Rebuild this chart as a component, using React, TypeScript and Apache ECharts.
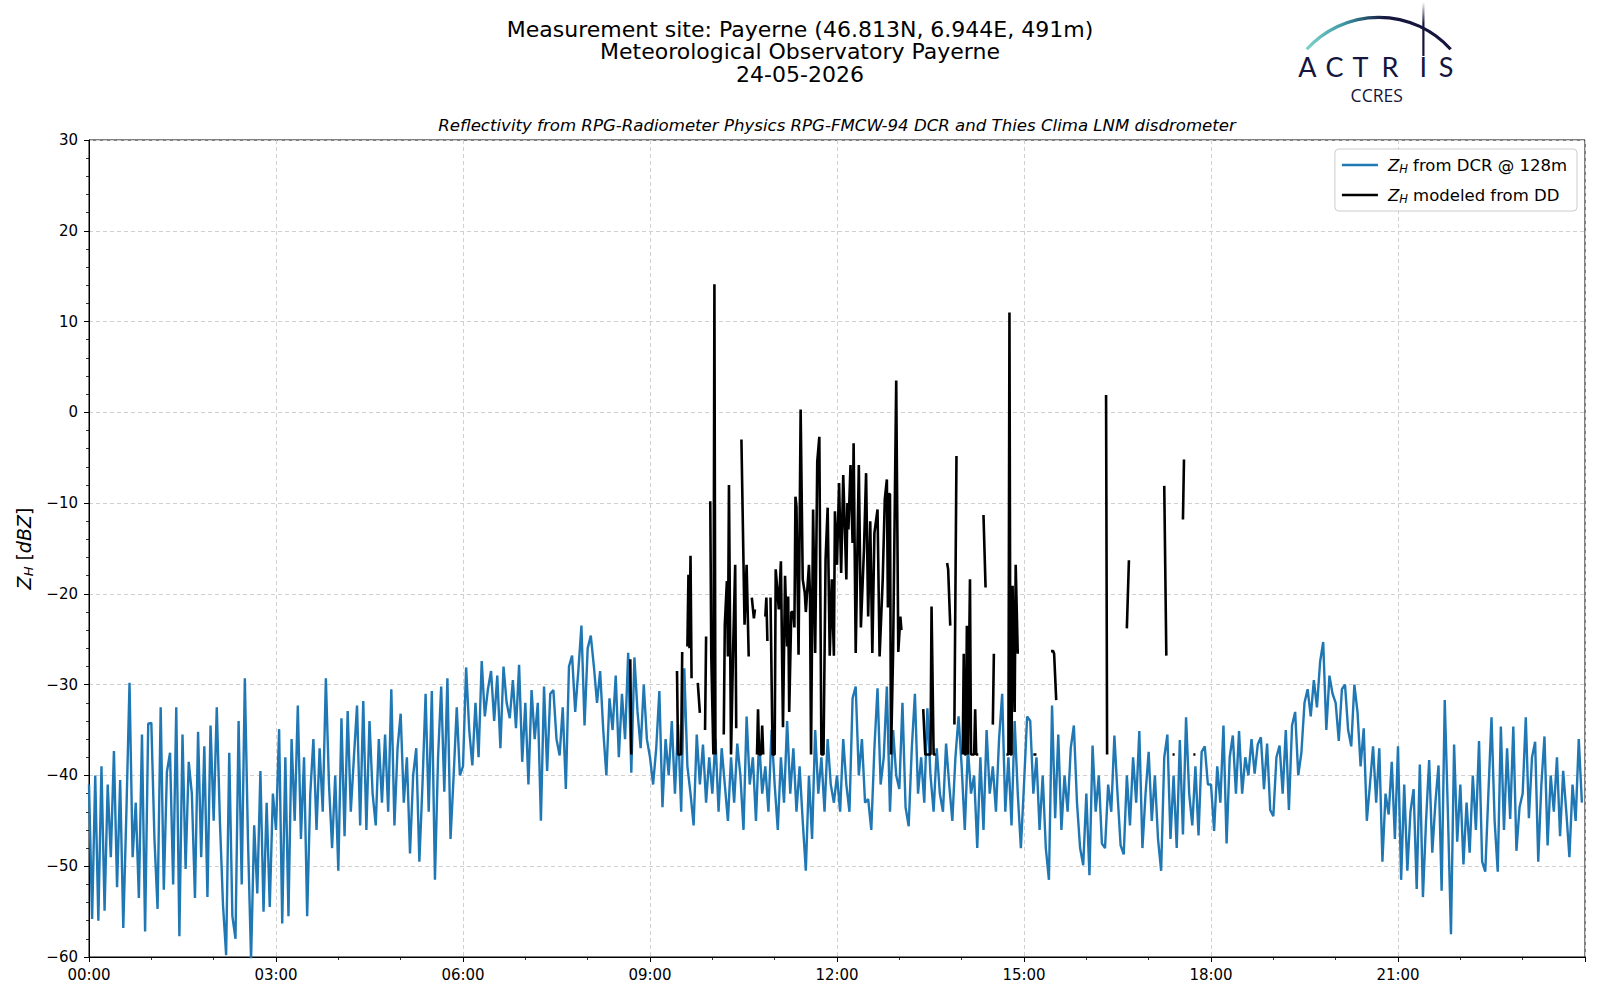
import React, { useEffect, useRef } from "react";
import * as echarts from "echarts";

// ---------- DATA ----------
const titleLines = [
  "Measurement site: Payerne (46.813N, 6.944E, 491m)",
  "Meteorological Observatory Payerne",
  "24-05-2026",
];
const subtitleText =
  "Reflectivity from RPG-Radiometer Physics RPG-FMCW-94 DCR and Thies Clima LNM disdrometer";
const seriesNames = ["Z_H from DCR @ 128m", "Z_H modeled from DD"];
const dcrStepMinutes = 3;

// Z_H from DCR @ 128m, one value every 3 minutes (20 per hour), hours 00..23
const dcrH00 = [-41,-55.8,-40,-56,-39,-54.9,-41,-49,-37.3,-52.3,-40.5,-56.8,-44,-29.8,-49,-43,-53.5,-35.5,-57.2,-34.3];
const dcrH01 = [-34.2,-47,-54.7,-32.5,-52.6,-39.6,-37.5,-52,-32.5,-57.7,-35.5,-50.3,-38.5,-42,-53.5,-35.2,-49,-36.8,-53.4,-34.5];
const dcrH02 = [-45,-32.5,-45,-54.3,-59.8,-37.5,-55.5,-58,-34,-52,-29.3,-47,-60.3,-45.5,-53,-39.5,-55,-43,-54.5,-42];
const dcrH03 = [-46,-34.9,-56.3,-38,-55.5,-36,-45,-32.3,-47,-38,-55.5,-42,-36,-46,-37,-44,-29.3,-41,-48,-40];
const dcrH04 = [-50.5,-33.7,-46.7,-32.9,-44,-38,-32.3,-45.5,-31.8,-46,-34,-42,-45.5,-36,-43,-35.5,-44,-30.5,-45.5,-37];
const dcrH05 = [-33.2,-43,-38,-48.6,-40,-37,-49.5,-41,-31,-44,-30.7,-51.5,-38,-30.2,-41.8,-29.3,-47,-40,-32.5,-40];
const dcrH06 = [-39,-28.1,-35,-38.9,-32,-38,-27.4,-33.5,-30.5,-28.5,-34,-29,-37,-28,-32,-33.7,-29.5,-34.8,-27.8,-38.5];
const dcrH07 = [-32,-41,-30.6,-36,-32,-45,-30.2,-39.5,-31,-30.6,-36,-37.8,-32.5,-41.5,-28,-26.8,-33,-28.5,-23.5,-34.5];
const dcrH08 = [-26,-24.6,-28,-32,-28.5,-35,-40,-31.5,-35,-29,-38,-31,-36,-26.5,-39.7,-27,-33,-37,-30,-36];
const dcrH09 = [-38,-41,-37,-30.7,-43.5,-36,-40,-34,-42,-34.4,-44,-28.2,-39,-42,-45.5,-35.5,-41,-36.6,-43,-38];
const dcrH10 = [-42,-36,-44,-37,-41,-45,-38,-43,-36.5,-40,-46,-33.5,-41,-38,-45,-36,-42,-39,-44,-35];
const dcrH11 = [-41,-46,-38,-43,-34,-42,-37,-44,-39,-45,-50.5,-40,-47,-35,-42,-38,-44,-36,-41,-43];
const dcrH12 = [-40,-44,-36,-41,-44,-31.5,-30.2,-40,-36,-43,-42.6,-46,-37,-30.4,-41,-38,-30.2,-44,-35,-40];
const dcrH13 = [-41.5,-32,-43.5,-45.6,-37,-31,-42,-38,-43,-32.6,-40,-44,-37,-42,-44,-36.5,-41,-45,-38,-33.5];
const dcrH14 = [-39,-46,-37,-42,-40,-48,-38,-46,-35,-42,-39,-44,-36,-31,-44,-38,-45.5,-34,-42,-48];
const dcrH15 = [-41,-33.5,-34,-42,-38,-46,-40,-48,-51.5,-32.3,-44.7,-35.5,-46,-40,-44,-37,-34.5,-43,-48,-49.9];
const dcrH16 = [-42,-51,-36.7,-44,-40,-47.5,-48,-41,-44,-35.6,-42,-47.7,-48.7,-40,-45.5,-38,-43,-35.1,-48,-42];
const dcrH17 = [-37.4,-45,-40,-47,-50.5,-38,-35.5,-47,-40,-48,-36.1,-46.5,-33.6,-42,-45.5,-39,-46.6,-37.4,-36.8,-41];
const dcrH18 = [-41,-46.1,-39,-43,-34.5,-47.5,-38,-35.6,-42,-35.1,-42,-38,-40,-36,-39.8,-36.6,-35.8,-41.5,-36.5,-43.8];
const dcrH19 = [-44.5,-38,-36.7,-42,-35,-43.8,-34.5,-33,-40,-37.5,-32,-30.5,-33.5,-29.5,-32.5,-27.5,-25.3,-35,-29,-31];
const dcrH20 = [-32,-36.2,-30.5,-30,-35,-36.8,-30,-33,-39,-34.8,-45,-41,-36.8,-43,-37,-49.5,-42,-44.3,-38.5,-47];
const dcrH21 = [-36.8,-51.5,-41,-50.5,-44,-41.5,-52.5,-38.8,-53.4,-45,-38.3,-48.5,-43,-38.9,-52.7,-31.7,-44,-57.5,-36.6,-47.3];
const dcrH22 = [-41,-49.8,-43,-48.5,-40,-46,-36.2,-49.5,-50.6,-42,-33.6,-45,-50.6,-34.6,-46,-37,-44.8,-34.6,-48.3,-43.5];
const dcrH23 = [-42,-33.6,-44.7,-38,-36.3,-49.5,-41,-35.7,-47.7,-40,-44,-38,-46.7,-39.5,-44,-49,-41,-45,-36,-43];

// Z_H modeled from DD: segments of [minute of day, dBZ]
const ddSegments: [number, number][][] = [
  [[521,-27.2],[522,-37.7]],
  [[566,-28.5],[567,-37.7],[570,-37.7],[571,-26.4]],
  [[576,-25.8],[577,-17.9],[578,-26],[579,-15.8],[580,-29.3]],
  [[586,-29.8],[588,-33.1]],
  [[593,-35],[594,-24.7]],
  [[598,-9.8],[599,-26.9],[601,-37.7],[602,14.1],[603,-37.7]],
  [[611,-35.5],[612,-23.4],[614,-18.6],[615,-26.9],[616,-8],[618,-37.7],[620,-26.1],[622,-16.8],[623,-34.8]],
  [[628,-3],[631,-23.4],[633,-16.8],[635,-26.9]],
  [[638,-20.4],[640,-22.7],[641,-21.7]],
  [[643,-37.7],[644,-32.7],[645,-37.7],[647,-37.7],[648,-34.5],[649,-37.7]],
  [[651,-22.5],[652,-20.4],[653,-25.2]],
  [[656,-20.4],[658,-37.7],[660,-37.7],[661,-17.3],[664,-21.7],[666,-16.4],[668,-34.7],[670,-18],[672,-25.8],[673,-20.3],
   [674,-33],[676,-22],[678,-22],[679,-23.7],[680,-9.3],[681,-10.4],[683,-26.7],[685,0.3],[687,-18.4],[689,-19.9],
   [690,-22],[693,-16.8],[694,-20],[695,-37.7],[697,-10.7],[699,-26.5],[701,-5.4],[703,-2.7],[705,-37.7],[707,-37.7],
   [709,-16.2],[711,-10.5],[713,-26.8],[715,-18.4],[717,-26.8],[718,-10.9],[720,-16.8],[722,-7.8],[724,-17.7],[726,-6.9],
   [729,-18.4],[730,-10],[731,-12.9],[733,-5.8],[735,-14.4],[736,-3.4],[738,-26.5],[741,-5.8],[743,-23.7],[746,-15],
   [748,-6.7],[750,-22.5],[752,-12],[754,-26.5],[756,-13.3],[759,-10.7],[761,-26.9],[764,-18.4],[766,-9.6],[768,-7.4],
   [769,-21.5],[770,-9],[771,-9],[772,-37.7],[774,-26.4],[777,3.5],[779,-26.4],[781,-22.5],[782,-24]],
  [[803,-32.7],[805,-37.7],[810,-37.7],[811,-21.4],[813,-37.7],[815,-37.7]],
  [[826,-16.6],[827,-17.3],[829,-23.5]],
  [[833,-34.4],[835,-4.8]],
  [[841,-37.7],[842,-26.6],[843,-37.7],[844,-37.7],[845,-23.5],[846,-37.7],[848,-18.4],[849,-37.7],[852,-37.7],[853,-32.7],[854,-37.7],[856,-37.7]],
  [[861,-11.3],[863,-19.3]],
  [[870,-34.4],[871,-26.6]],
  [[883,-37.7],[885,-37.7],[886,11],[887,-37.7],[888,-37.7],[889,-19.1],[890,-26],[891,-33],[892,-16.8],[894,-26.6]],
  [[909,-37.7],[912,-37.7]],
  [[926,-26.3],[928,-26.3],[929,-26.6],[931,-31.7]],
  [[979,1.9],[980,-37.7]],
  [[999,-23.8],[1001,-16.3]],
  [[1035,-8.1],[1037,-26.8]],
  [[1043,-37.7],[1045,-37.7]],
  [[1053,-11.8],[1054,-5.2]],
  [[1063,-37.7],[1065,-37.7]],
];

const dcrValues = [
  ...dcrH00, ...dcrH01, ...dcrH02, ...dcrH03, ...dcrH04, ...dcrH05,
  ...dcrH06, ...dcrH07, ...dcrH08, ...dcrH09, ...dcrH10, ...dcrH11,
  ...dcrH12, ...dcrH13, ...dcrH14, ...dcrH15, ...dcrH16, ...dcrH17,
  ...dcrH18, ...dcrH19, ...dcrH20, ...dcrH21, ...dcrH22, ...dcrH23,
];

const FONT = '"DejaVu Sans", "Liberation Sans", sans-serif';
const NAVY = "#15153d";

function minus(s: string) {
  return s.replace(/-/g, "\u2212");
}
function hhmm(v: number) {
  const h = Math.floor(v / 60);
  const m = Math.round(v % 60);
  return String(h).padStart(2, "0") + ":" + String(m).padStart(2, "0");
}

function txt(text: string, x: number, y: number, font: string, fill: string, align = "center") {
  return {
    type: "text",
    x,
    y,
    silent: true,
    style: {
      text,
      font,
      fill,
      align,
      verticalAlign: "middle",
      textAlign: align,
      textVerticalAlign: "middle",
    },
  };
}

export default function App() {
  const ref = useRef<HTMLDivElement>(null);

  useEffect(() => {
    if (!ref.current) return;
    const chart = echarts.init(ref.current, undefined, { renderer: "svg" });

    const dcrData = dcrValues.map((v, i) => [i * dcrStepMinutes, v]);
    const ddData: any[] = [];
    ddSegments.forEach((seg, i) => {
      if (i > 0) ddData.push([seg[0][0] - 0.5, null]);
      seg.forEach((p) => ddData.push(p));
    });

    const subRich = {
      p: { width: 5, fontSize: 16.5, lineHeight: 20 },
      i: { fontStyle: "italic", fontFamily: FONT, fontSize: 16.5, lineHeight: 20 },
      s: { fontStyle: "italic", fontFamily: FONT, fontSize: 11.5, lineHeight: 12, verticalAlign: "bottom" },
    };

    const arcGrad = new echarts.graphic.LinearGradient(0, 0, 1, 0, [
      { offset: 0, color: "#7fd1c9" },
      { offset: 0.25, color: "#3f9aa6" },
      { offset: 0.55, color: NAVY },
      { offset: 1, color: NAVY },
    ]);
    const barGrad = new echarts.graphic.LinearGradient(0, 0, 0, 1, [
      { offset: 0, color: "rgba(21,21,61,0)" },
      { offset: 0.4, color: NAVY },
      { offset: 1, color: NAVY },
    ]);

    const logoFont = '400 27px Lato, "Noto Sans", sans-serif';
    const letters: [string, number][] = [
      ["A", 1307.5], ["C", 1334.5], ["T", 1360.5], ["R", 1390], ["I", 1423.3], ["S", 1446],
    ];

    const option: any = {
      animation: false,
      backgroundColor: "#ffffff",
      textStyle: { fontFamily: FONT },
      grid: {
        left: 89,
        right: 15,
        top: 140,
        bottom: 43,
        containLabel: false,
        outerBoundsMode: "none",
        show: true,
        borderColor: "#000",
        borderWidth: 1,
        backgroundColor: "rgba(0,0,0,0)",
      },
      xAxis: {
        type: "value",
        min: 0,
        max: 1440,
        interval: 180,
        axisLine: { show: true, onZero: false, lineStyle: { color: "#000", width: 1 } },
        axisTick: { show: true, length: 5, lineStyle: { color: "#000", width: 1 } },
        minorTick: { show: true, splitNumber: 3, length: 3, lineStyle: { color: "#000", width: 0.8 } },
        axisLabel: {
          showMaxLabel: false,
          margin: 10,
          color: "#000",
          fontFamily: FONT,
          fontSize: 15,
          formatter: (v: number) => hhmm(v),
        },
        splitLine: { show: true, lineStyle: { color: "#d0d0d0", type: [4, 3], width: 1 } },
      },
      yAxis: {
        type: "value",
        min: -60,
        max: 30,
        interval: 10,
        name: "{i|Z}{s|H} [{i|dBZ}]",
        nameLocation: "middle",
        nameRotate: 90,
        nameGap: 53,
        nameTextStyle: {
          color: "#000",
          fontFamily: FONT,
          fontSize: 19,
          lineHeight: 23,
          rich: {
            i: { fontStyle: "italic", fontFamily: FONT, fontSize: 19, lineHeight: 23, color: "#000" },
            s: { fontStyle: "italic", fontFamily: FONT, fontSize: 13, lineHeight: 13, verticalAlign: "bottom", color: "#000" },
          },
        },
        axisLine: { show: true, onZero: false, lineStyle: { color: "#000", width: 1 } },
        axisTick: { show: true, length: 5, lineStyle: { color: "#000", width: 1 } },
        minorTick: { show: true, splitNumber: 5, length: 3, lineStyle: { color: "#000", width: 0.8 } },
        axisLabel: {
          margin: 11,
          color: "#000",
          fontFamily: FONT,
          fontSize: 15,
          formatter: (v: number) => minus(String(v)),
        },
        splitLine: { show: true, lineStyle: { color: "#d0d0d0", type: [4, 3], width: 1 } },
      },
      legend: {
        orient: "vertical",
        right: 23,
        top: 149,
        padding: [6, 10, 6, 7],
        itemGap: 10,
        itemWidth: 36,
        itemHeight: 2.5,
        icon: "rect",
        backgroundColor: "rgba(255,255,255,0.85)",
        borderColor: "#cccccc",
        borderWidth: 1,
        borderRadius: 4,
        data: seriesNames,
        formatter: (name: string) => "{p|}" + name.replace("Z_H", "{i|Z}{s|H}"),
        textStyle: {
          color: "#000",
          fontFamily: FONT,
          fontSize: 16.5,
          lineHeight: 20,
          rich: subRich,
        },
      },
      series: [
        {
          name: seriesNames[0],
          type: "line",
          data: dcrData,
          showSymbol: false,
          symbol: "none",
          z: 2,
          lineStyle: { color: "#1f77b4", width: 2.4 },
          itemStyle: { color: "#1f77b4" },
          emphasis: { disabled: true },
        },
        {
          name: seriesNames[1],
          type: "line",
          data: ddData,
          connectNulls: false,
          showSymbol: false,
          symbol: "none",
          z: 3,
          lineStyle: { color: "#000000", width: 2.6 },
          itemStyle: { color: "#000000" },
          emphasis: { disabled: true },
        },
      ],
      graphic: [
        txt(titleLines[0], 800, 29, `22px ${FONT}`, "#000"),
        txt(titleLines[1], 800, 51.5, `22px ${FONT}`, "#000"),
        txt(titleLines[2], 800, 74.5, `22px ${FONT}`, "#000"),
        txt(subtitleText, 837, 125.5, `italic 16.6px ${FONT}`, "#000"),
        {
          type: "arc",
          silent: true,
          shape: { cx: 1378.7, cy: 114.3, r: 97, startAngle: -2.407, endAngle: -0.735, clockwise: true },
          style: { stroke: arcGrad, lineWidth: 3.2, fill: null },
        },
        {
          type: "rect",
          silent: true,
          shape: { x: 1422.3, y: 2, width: 2.2, height: 54 },
          style: { fill: barGrad },
        },
        ...letters.map(([ch, x]) => txt(ch, x, 66.5, logoFont, NAVY)),
        txt("CCRES", 1376.7, 94.5, `17.5px "Open Sans", "Noto Sans", sans-serif`, NAVY),
      ],
    };

    chart.setOption(option);
    return () => chart.dispose();
  }, []);

  return (
    <div
      ref={ref}
      style={{ position: "fixed", left: 0, top: 0, width: 1600, height: 1000, background: "#fff" }}
    />
  );
}
